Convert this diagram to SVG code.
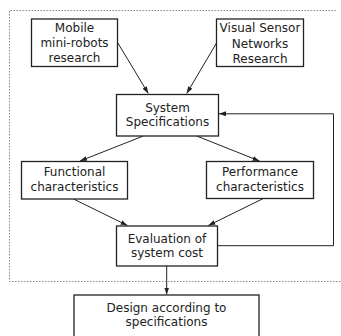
<svg xmlns="http://www.w3.org/2000/svg" width="341" height="336" viewBox="0 0 341 336">
<style>
.box{fill:#fff;stroke:#222;stroke-width:1.3}
.t{font-family:"DejaVu Sans",sans-serif;font-size:12px;fill:#222;text-anchor:middle}
.c{fill:none;stroke:#222;stroke-width:1}
.frame{fill:none;stroke:#888;stroke-width:1;stroke-dasharray:1.5,1.5}
</style>
<defs>
<marker id="ah" viewBox="0 0 10 10" refX="10" refY="5" markerWidth="7" markerHeight="7" markerUnits="userSpaceOnUse" orient="auto">
<path d="M0,1.5 L10,5 L0,8.5 Z" fill="#222"/>
</marker>
</defs>
<g id="frame">
<path class="frame" d="M336,10.5 H9.5 V281.5 H341"/>
</g>
<g id="connectors">
<line class="c" x1="117.7" y1="42.7" x2="148.3" y2="93.5" marker-end="url(#ah)"/>
<line class="c" x1="216.7" y1="42.7" x2="186.7" y2="93.5" marker-end="url(#ah)"/>
<line class="c" x1="143.3" y1="136" x2="80" y2="161" marker-end="url(#ah)"/>
<line class="c" x1="196.7" y1="136" x2="259.5" y2="161" marker-end="url(#ah)"/>
<line class="c" x1="73.5" y1="199" x2="127.5" y2="225.5" marker-end="url(#ah)"/>
<line class="c" x1="263.3" y1="198.5" x2="208.3" y2="225.5" marker-end="url(#ah)"/>
<polyline class="c" points="217.5,245.7 333.5,245.7 333.5,113.8 219,113.8" marker-end="url(#ah)"/>
<line class="c" x1="166.7" y1="266" x2="166.7" y2="294.5" marker-end="url(#ah)"/>
</g>
<g id="mobile">
<rect class="box" x="31.5" y="19" width="86" height="47.5"/>
<text class="t" x="74.5" y="32.3">Mobile</text>
<text class="t" x="74.5" y="47">mini-robots</text>
<text class="t" x="74.5" y="62">research</text>
</g>
<g id="visual">
<rect class="box" x="216.5" y="19" width="87" height="47.5"/>
<text class="t" x="260" y="32.3">Visual Sensor</text>
<text class="t" x="260" y="47.5">Networks</text>
<text class="t" x="260" y="62.5">Research</text>
</g>
<g id="sysspec">
<rect class="box" x="116.5" y="94.5" width="102" height="41.5"/>
<text class="t" x="167.5" y="112.3">System</text>
<text class="t" x="167.5" y="126">Specifications</text>
</g>
<g id="functional">
<rect class="box" x="21.5" y="161.5" width="106" height="37.5"/>
<text class="t" x="74.5" y="176">Functional</text>
<text class="t" x="74.5" y="190.5">characteristics</text>
</g>
<g id="performance">
<rect class="box" x="206.5" y="161.5" width="107" height="37"/>
<text class="t" x="260" y="176">Performance</text>
<text class="t" x="260" y="190.5">characteristics</text>
</g>
<g id="evaluation">
<rect class="box" x="116.5" y="226" width="101" height="40"/>
<text class="t" x="167" y="243">Evaluation of</text>
<text class="t" x="167" y="257.3">system cost</text>
</g>
<g id="design">
<rect class="box" x="74" y="295" width="185" height="50"/>
<text class="t" x="166.5" y="311.7">Design according to</text>
<text class="t" x="166.5" y="326">specifications</text>
</g>
</svg>
